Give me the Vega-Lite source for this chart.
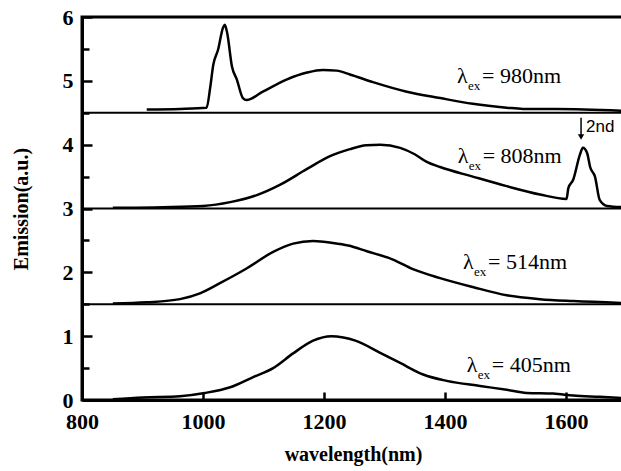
{
  "$schema": "https://vega.github.io/schema/vega-lite/v6.json",
  "width": 542,
  "height": 383,
  "autosize": "none",
  "padding": {"left": 82, "top": 17, "right": 0, "bottom": 71},
  "background": "white",
  "config": {
    "view": {"stroke": "black", "strokeWidth": 3}
  },
  "datasets": {
    "curves": [
      {"series": "405", "wavelength": 851, "emission": 0.01},
      {"series": "405", "wavelength": 901, "emission": 0.04},
      {"series": "405", "wavelength": 962, "emission": 0.06},
      {"series": "405", "wavelength": 1003, "emission": 0.11},
      {"series": "405", "wavelength": 1045, "emission": 0.2},
      {"series": "405", "wavelength": 1083, "emission": 0.36},
      {"series": "405", "wavelength": 1116, "emission": 0.5},
      {"series": "405", "wavelength": 1149, "emission": 0.73},
      {"series": "405", "wavelength": 1182, "emission": 0.93},
      {"series": "405", "wavelength": 1212, "emission": 1.0},
      {"series": "405", "wavelength": 1232, "emission": 0.98},
      {"series": "405", "wavelength": 1252, "emission": 0.93},
      {"series": "405", "wavelength": 1293, "emission": 0.74},
      {"series": "405", "wavelength": 1326, "emission": 0.58},
      {"series": "405", "wavelength": 1364, "emission": 0.4},
      {"series": "405", "wavelength": 1403, "emission": 0.3},
      {"series": "405", "wavelength": 1458, "emission": 0.22},
      {"series": "405", "wavelength": 1502, "emission": 0.16},
      {"series": "405", "wavelength": 1535, "emission": 0.11},
      {"series": "405", "wavelength": 1579, "emission": 0.1},
      {"series": "405", "wavelength": 1612, "emission": 0.07},
      {"series": "405", "wavelength": 1656, "emission": 0.05},
      {"series": "405", "wavelength": 1696, "emission": 0.03},
      {"series": "514", "wavelength": 851, "emission": 1.51},
      {"series": "514", "wavelength": 907, "emission": 1.53},
      {"series": "514", "wavelength": 962, "emission": 1.58},
      {"series": "514", "wavelength": 995, "emission": 1.67},
      {"series": "514", "wavelength": 1028, "emission": 1.83},
      {"series": "514", "wavelength": 1072, "emission": 2.06},
      {"series": "514", "wavelength": 1116, "emission": 2.32},
      {"series": "514", "wavelength": 1149, "emission": 2.45},
      {"series": "514", "wavelength": 1182, "emission": 2.49},
      {"series": "514", "wavelength": 1215, "emission": 2.46},
      {"series": "514", "wavelength": 1240, "emission": 2.42},
      {"series": "514", "wavelength": 1271, "emission": 2.33},
      {"series": "514", "wavelength": 1314, "emission": 2.2},
      {"series": "514", "wavelength": 1347, "emission": 2.05},
      {"series": "514", "wavelength": 1392, "emission": 1.91},
      {"series": "514", "wavelength": 1446, "emission": 1.77},
      {"series": "514", "wavelength": 1502, "emission": 1.64},
      {"series": "514", "wavelength": 1557, "emission": 1.58},
      {"series": "514", "wavelength": 1612, "emission": 1.55},
      {"series": "514", "wavelength": 1696, "emission": 1.52},
      {"series": "808", "wavelength": 851, "emission": 3.01},
      {"series": "808", "wavelength": 934, "emission": 3.02},
      {"series": "808", "wavelength": 1000, "emission": 3.04},
      {"series": "808", "wavelength": 1045, "emission": 3.1},
      {"series": "808", "wavelength": 1089, "emission": 3.21},
      {"series": "808", "wavelength": 1127, "emission": 3.37},
      {"series": "808", "wavelength": 1172, "emission": 3.62},
      {"series": "808", "wavelength": 1210, "emission": 3.82},
      {"series": "808", "wavelength": 1243, "emission": 3.93},
      {"series": "808", "wavelength": 1270, "emission": 3.99},
      {"series": "808", "wavelength": 1293, "emission": 4.0},
      {"series": "808", "wavelength": 1326, "emission": 3.95},
      {"series": "808", "wavelength": 1350, "emission": 3.85},
      {"series": "808", "wavelength": 1370, "emission": 3.73},
      {"series": "808", "wavelength": 1392, "emission": 3.65},
      {"series": "808", "wavelength": 1446, "emission": 3.5},
      {"series": "808", "wavelength": 1502, "emission": 3.35},
      {"series": "808", "wavelength": 1557, "emission": 3.22},
      {"series": "808", "wavelength": 1601, "emission": 3.15},
      {"series": "808", "wavelength": 1604, "emission": 3.32},
      {"series": "808", "wavelength": 1612, "emission": 3.45},
      {"series": "808", "wavelength": 1623, "emission": 3.84},
      {"series": "808", "wavelength": 1628, "emission": 3.95},
      {"series": "808", "wavelength": 1635, "emission": 3.87},
      {"series": "808", "wavelength": 1640, "emission": 3.65},
      {"series": "808", "wavelength": 1648, "emission": 3.5},
      {"series": "808", "wavelength": 1656, "emission": 3.13},
      {"series": "808", "wavelength": 1668, "emission": 3.04},
      {"series": "808", "wavelength": 1696, "emission": 3.02},
      {"series": "980", "wavelength": 907, "emission": 4.55},
      {"series": "980", "wavelength": 962, "emission": 4.56},
      {"series": "980", "wavelength": 1006, "emission": 4.58},
      {"series": "980", "wavelength": 1012, "emission": 4.9},
      {"series": "980", "wavelength": 1017, "emission": 5.25},
      {"series": "980", "wavelength": 1025, "emission": 5.49},
      {"series": "980", "wavelength": 1033, "emission": 5.83},
      {"series": "980", "wavelength": 1036, "emission": 5.88},
      {"series": "980", "wavelength": 1040, "emission": 5.75},
      {"series": "980", "wavelength": 1048, "emission": 5.22},
      {"series": "980", "wavelength": 1056, "emission": 5.02},
      {"series": "980", "wavelength": 1066, "emission": 4.73},
      {"series": "980", "wavelength": 1072, "emission": 4.7},
      {"series": "980", "wavelength": 1099, "emission": 4.83},
      {"series": "980", "wavelength": 1138, "emission": 5.02},
      {"series": "980", "wavelength": 1172, "emission": 5.13},
      {"series": "980", "wavelength": 1198, "emission": 5.17},
      {"series": "980", "wavelength": 1221, "emission": 5.16},
      {"series": "980", "wavelength": 1243, "emission": 5.1},
      {"series": "980", "wavelength": 1281, "emission": 4.98},
      {"series": "980", "wavelength": 1337, "emission": 4.83},
      {"series": "980", "wavelength": 1392, "emission": 4.73},
      {"series": "980", "wavelength": 1446, "emission": 4.64},
      {"series": "980", "wavelength": 1502, "emission": 4.58},
      {"series": "980", "wavelength": 1529, "emission": 4.56},
      {"series": "980", "wavelength": 1585, "emission": 4.56},
      {"series": "980", "wavelength": 1696, "emission": 4.53}
    ],
    "baselines": [{"level": 1.5}, {"level": 3}, {"level": 4.5}],
    "labels": [
      {"text": "= 980nm", "wavelength": 1420, "value": 4.97},
      {"text": "= 808nm", "wavelength": 1421, "value": 3.71},
      {"text": "= 514nm", "wavelength": 1430, "value": 2.05},
      {"text": "= 405nm", "wavelength": 1436, "value": 0.44}
    ],
    "arrow": [{"wavelength": 1625, "top": 4.42, "tip": 4.12, "note": "2nd"}]
  },
  "resolve": {"axis": {"x": "independent", "y": "independent"}},
  "layer": [
    {
      "data": {"name": "curves"},
      "mark": {"type": "line", "color": "black", "strokeWidth": 2.5, "interpolate": "monotone"},
      "encoding": {
        "x": {
          "field": "wavelength", "type": "quantitative",
          "scale": {"domain": [800, 1696], "nice": false, "zero": false},
          "axis": {"orient": "bottom", "values": [800, 1000, 1200, 1400, 1600], "format": "d", "grid": false, "zindex": 1,
            "domain": true, "domainColor": "black", "domainWidth": 3,
            "ticks": true, "tickColor": "black", "tickWidth": 2.5, "tickSize": -8,
            "labelFont": "Liberation Serif", "labelFontWeight": "bold", "labelFontSize": 22, "labelColor": "black", "labelPadding": 19, "labelFlush": false,
            "title": "wavelength(nm)", "titleFont": "Liberation Serif", "titleFontWeight": "bold", "titleFontSize": 20, "titleColor": "black", "titlePadding": 12}
        },
        "y": {
          "field": "emission", "type": "quantitative",
          "scale": {"domain": [0, 6], "nice": false},
          "axis": {"orient": "left", "values": [0, 1, 2, 3, 4, 5, 6], "grid": false, "zindex": 1,
            "domain": true, "domainColor": "black", "domainWidth": 3,
            "ticks": true, "tickColor": "black", "tickWidth": 2.5, "tickSize": -10,
            "labelFont": "Liberation Serif", "labelFontWeight": "bold", "labelFontSize": 22, "labelColor": "black", "labelPadding": 19, "labelFlush": false,
            "title": "Emission(a.u.)", "titleFont": "Liberation Serif", "titleFontWeight": "bold", "titleFontSize": 20, "titleColor": "black", "titlePadding": 31}
        },
        "detail": {"field": "series"}
      }
    },
    {
      "data": {"name": "baselines"},
      "mark": {"type": "rule", "color": "black", "strokeWidth": 2.2},
      "encoding": {
        "y": {
          "field": "level", "type": "quantitative",
          "axis": {"orient": "left", "values": [0.5, 1.5, 2.5, 3.5, 4.5, 5.5], "grid": false, "zindex": 1, "tickColor": "black", "tickWidth": 2.5, "tickSize": -7, "labels": false, "domain": false, "title": null}
        }
      }
    },
    {
      "data": {"name": "labels"},
      "layer": [
        {
          "mark": {"type": "text", "text": "λ", "align": "left", "baseline": "alphabetic", "font": "Liberation Serif", "fontSize": 22, "color": "black"},
          "encoding": {
            "x": {"field": "wavelength", "type": "quantitative",
              "axis": {"orient": "top", "values": [900, 1000, 1100, 1200, 1300, 1400, 1500, 1600], "grid": false, "zindex": 1,
                "domain": true, "domainColor": "black", "domainWidth": 3,
                "tickColor": "black", "tickWidth": 2.5, "tickSize": -8, "labels": false, "title": null}},
            "y": {"field": "value", "type": "quantitative", "axis": null}
          }
        },
        {
          "mark": {"type": "text", "text": "ex", "align": "left", "baseline": "alphabetic", "font": "Liberation Serif", "fontSize": 13, "color": "black", "dx": 11, "dy": 7},
          "encoding": {
            "x": {"field": "wavelength", "type": "quantitative", "axis": null},
            "y": {"field": "value", "type": "quantitative", "axis": null}
          }
        },
        {
          "mark": {"type": "text", "align": "left", "baseline": "alphabetic", "font": "Liberation Serif", "fontSize": 22, "color": "black", "dx": 25},
          "encoding": {
            "x": {"field": "wavelength", "type": "quantitative", "axis": null},
            "y": {"field": "value", "type": "quantitative", "axis": null},
            "text": {"field": "text"}
          }
        }
      ]
    },
    {
      "data": {"name": "arrow"},
      "layer": [
        {
          "mark": {"type": "rule", "color": "black", "strokeWidth": 1.5},
          "encoding": {
            "x": {"field": "wavelength", "type": "quantitative",
              "axis": {"orient": "bottom", "values": [900, 1100, 1300, 1500], "grid": false, "zindex": 1, "domain": false, "tickColor": "black", "tickWidth": 2.5, "tickSize": -5, "labels": false, "title": null}},
            "y": {"field": "top", "type": "quantitative", "axis": null},
            "y2": {"field": "tip"}
          }
        },
        {
          "mark": {"type": "point", "shape": "triangle-down", "filled": true, "color": "black", "size": 40, "opacity": 1},
          "encoding": {
            "x": {"field": "wavelength", "type": "quantitative", "axis": null},
            "y": {"field": "tip", "type": "quantitative", "axis": null}
          }
        },
        {
          "mark": {"type": "text", "align": "left", "baseline": "middle", "font": "Liberation Sans", "fontSize": 17, "color": "black", "dx": 5, "dy": -10},
          "encoding": {
            "x": {"field": "wavelength", "type": "quantitative", "axis": null},
            "y": {"field": "tip", "type": "quantitative", "axis": null},
            "text": {"field": "note"}
          }
        }
      ]
    }
  ]
}
